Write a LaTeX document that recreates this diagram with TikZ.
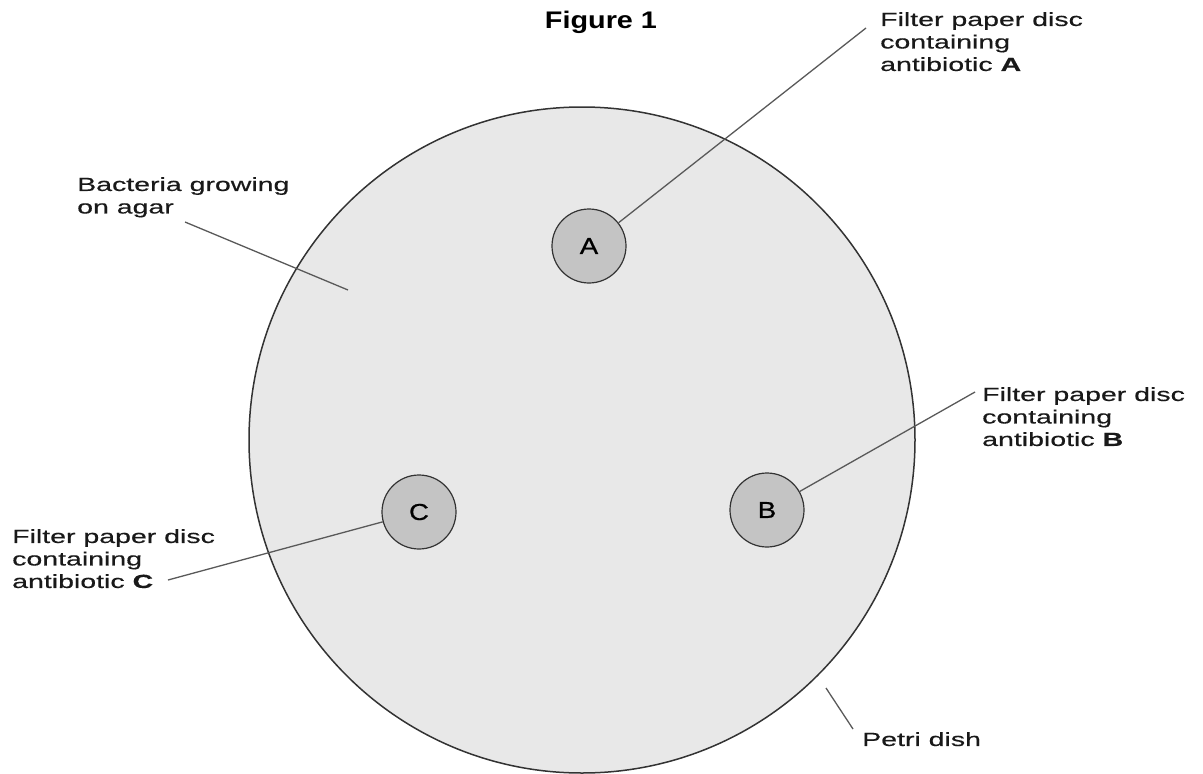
\documentclass[tikz,border=0pt]{standalone}
\usepackage{fontspec}
\setmainfont{Liberation Sans}
\newfontfamily\labfont[FakeStretch=1.5,FakeBold=0.4]{Liberation Sans}
\newfontfamily\titlefont[FakeStretch=1.2]{Liberation Sans}
\newfontfamily\discfont[FakeStretch=1.2,FakeBold=0.8]{Liberation Sans}
\definecolor{agar}{HTML}{E8E8E8}
\definecolor{discgray}{HTML}{C4C4C4}
\definecolor{rimgray}{HTML}{333333}
\begin{document}
\begin{tikzpicture}[x=1pt,y=-1pt,
  lab/.style={anchor=north west,inner sep=0pt,align=left,
    font=\labfont\fontsize{19}{22.5}\selectfont,text=black!90},
  disc/.style={circle,draw=rimgray,line width=1.2pt,fill=discgray,
    minimum size=74pt,inner sep=0pt,font=\discfont\fontsize{23}{23}\selectfont},
  lead/.style={draw=black!65,line width=1.3pt}]
\useasboundingbox (0,0) rectangle (1203,774);
% Title
\node[font=\titlefont\bfseries\fontsize{24}{24}\selectfont] (title) at (601,22) {Figure 1};
% Petri dish
\draw[fill=agar,draw=rimgray,line width=1.5pt] (582,440) circle (333);
% Discs
\node[disc] (discA) at (589,246) {A};
\node[disc] (discB) at (767,510) {B};
\node[disc] (discC) at (419,512) {C};
% Labels
\node[lab] (lblA) at (880,12) {Filter paper disc\\containing\\antibiotic \textbf{A}};
\node[lab] (lblB) at (982,387) {Filter paper disc\\containing\\antibiotic \textbf{B}};
\node[lab] (lblC) at (12,529) {Filter paper disc\\containing\\antibiotic \textbf{C}};
\node[lab] (lblAgar) at (77,177) {Bacteria growing\\on agar};
\node[lab] (lblDish) at (862,732) {Petri dish};
% Leader lines
\coordinate (tipA) at (866,28);
\coordinate (tipB) at (975,392);
\coordinate (tipC) at (168,580);
\coordinate (agarA) at (185,222);
\coordinate (agarB) at (348,290);
\coordinate (dishA) at (826,688);
\coordinate (dishB) at (853,729);
\draw[lead] (discA) -- (tipA);
\draw[lead] (discB) -- (tipB);
\draw[lead] (tipC) -- (discC);
\draw[lead] (agarA) -- (agarB);
\draw[lead] (dishA) -- (dishB);
\end{tikzpicture}
\end{document}
